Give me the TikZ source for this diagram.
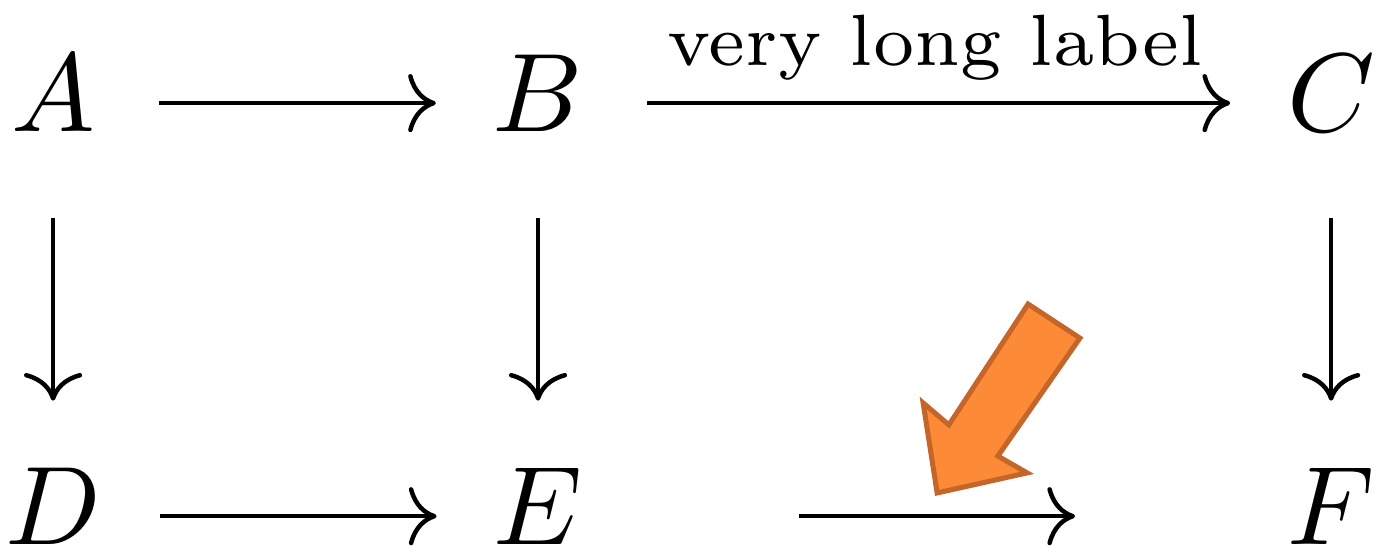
\documentclass[tikz,border=0pt]{standalone}
\usetikzlibrary{cd}

\definecolor{calloutfill}{HTML}{FD8A37}
\definecolor{calloutdraw}{HTML}{C4652A}

\begin{document}
\begin{tikzpicture}[
  obj/.style={anchor=base, inner sep=5.5pt},
  map/.style={-{cm to}, line width=0.4pt},
  axis/.style={yshift=2.5pt},
  callout/.style={fill=calloutfill, draw=calloutdraw, line width=0.45pt, line join=miter}
]
\useasboundingbox (0,0) rectangle (4.324,-1.714);

% Objects of the square.
\node[obj] (A) at (0.167,-0.412) {$A$};
\node[obj] (B) at (1.692,-0.412) {$B$};
\node[obj] (C) at (4.186,-0.412) {$C$};
\node[obj] (D) at (0.167,-1.711) {$D$};
\node[obj] (E) at (1.692,-1.711) {$E$};
\node[obj] (F) at (4.186,-1.711) {$F$};

% Horizontal maps.
\draw[map, shorten >=-0.6pt] ([axis]A.base east) -- ([axis]B.base west);
\draw[map, shorten >=-0.6pt] ([axis]B.base east) -- ([axis]C.base west)
  node[midway, above, inner sep=1.8pt, font=\fontsize{6.5}{8}\selectfont] (lbl) {very long label};
\draw[map, shorten <=-0.4pt, shorten >=-0.6pt] ([axis]D.base east) -- ([axis]E.base west);
\draw[map, shorten <=13.7pt, shorten >=13.3pt] ([axis]E.base east) -- ([axis]F.base west);

% Vertical maps.
\draw[map, shorten <=2.1pt, shorten >=0.3pt] (A.south) -- (D.north);
\draw[map, shorten <=2.1pt, shorten >=0.3pt] (B.south) -- (E.north);
\draw[map, shorten <=2.1pt, shorten >=0.3pt] (C.south) -- (F.north);

% Orange pointer.
\draw[callout] (3.233,-0.956) -- (3.396,-1.063) -- (3.138,-1.434) -- (3.230,-1.487)
  -- (2.947,-1.550) -- (2.903,-1.267) -- (2.984,-1.336) -- cycle;

\end{tikzpicture}
\end{document}
